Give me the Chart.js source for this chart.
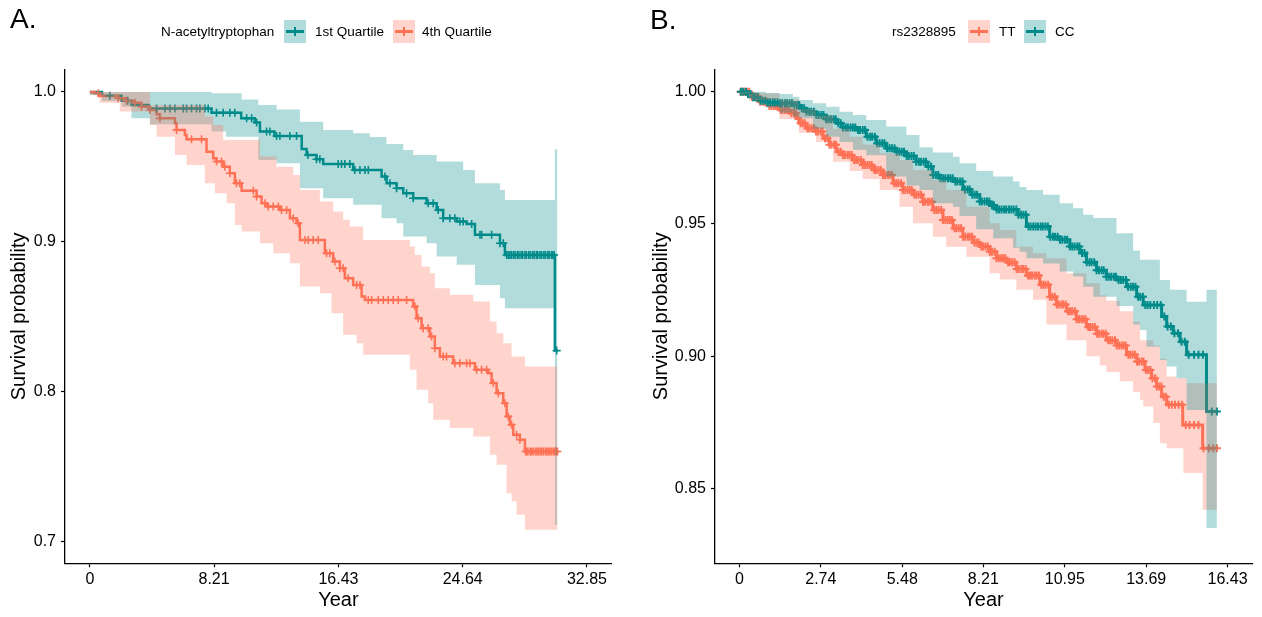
<!DOCTYPE html>
<html>
<head>
<meta charset="utf-8">
<script src="https://cdn.jsdelivr.net/npm/chart.js@4.4.0/dist/chart.umd.js"></script>
<style>
  body { margin: 0; background: #fff; font-family: 'Liberation Sans', Arial, sans-serif; }
  #wrap { position: relative; width: 1262px; height: 617px; overflow: hidden; background: #fff; }
  canvas { position: absolute; top: 0; }
  .tag { position: absolute; font-size: 28px; line-height: 28px; color: #000; }
  .leg { position: absolute; top: 25px; font-size: 13.5px; line-height: 13.5px; color: #000; white-space: nowrap; }
  .key { position: absolute; top: 20px; width: 22px; height: 23px; }
  .key .h { position: absolute; left: 2px; right: 2px; top: 10.3px; height: 2.4px; }
  .key .v { position: absolute; left: 10.2px; width: 1.6px; top: 7px; height: 9px; }
</style>
</head>
<body>
<div id="wrap">
  <canvas id="chartA" width="631" height="617" style="left:0"></canvas>
  <canvas id="chartB" width="631" height="617" style="left:631px"></canvas>

  <div class="tag" style="left:10px;top:4.6px">A.</div>
  <div class="leg" style="left:161px">N-acetyltryptophan</div>
  <div class="key" style="left:284px;background:rgba(0,139,139,0.3)"><div class="h" style="background:#008B8B"></div><div class="v" style="background:#008B8B"></div></div>
  <div class="leg" style="left:315px">1st Quartile</div>
  <div class="key" style="left:393px;background:rgba(255,114,86,0.3)"><div class="h" style="background:#FF7256"></div><div class="v" style="background:#FF7256"></div></div>
  <div class="leg" style="left:422px">4th Quartile</div>

  <div class="tag" style="left:650px;top:5.6px">B.</div>
  <div class="leg" style="left:892px">rs2328895</div>
  <div class="key" style="left:968px;background:rgba(255,114,86,0.3)"><div class="h" style="background:#FF7256"></div><div class="v" style="background:#FF7256"></div></div>
  <div class="leg" style="left:999px">TT</div>
  <div class="key" style="left:1024px;background:rgba(0,139,139,0.3)"><div class="h" style="background:#008B8B"></div><div class="v" style="background:#008B8B"></div></div>
  <div class="leg" style="left:1055px">CC</div>
</div>

<script>
// ---- Panel A: N-acetyltryptophan, 1st vs 4th quartile ----
const aXTicks = [0, 8.21, 16.43, 24.64, 32.85];
const aXLabels = ['0', '8.21', '16.43', '24.64', '32.85'];
const aYTicks = [0.7, 0.8, 0.9, 1.0];
const aYLabels = ['0.7', '0.8', '0.9', '1.0'];

// 1st quartile KM steps
const aQ1Time = [0, 0.8, 2.1, 2.75, 3.9, 8.04, 10.0, 10.9, 11.24, 12.2, 14.0, 14.32, 14.98, 15.42, 17.4, 19.28, 19.61, 20.27, 20.71, 21.37, 22.25, 22.92, 23.35, 24.24, 24.9, 25.45, 27.1, 27.43, 30.73, 30.9];
const aQ1Surv = [1.0, 0.9975, 0.9942, 0.9913, 0.989, 0.9862, 0.9824, 0.9796, 0.9736, 0.9707, 0.962, 0.958, 0.9551, 0.952, 0.948, 0.9436, 0.9391, 0.9358, 0.9324, 0.9291, 0.9257, 0.9213, 0.9158, 0.9136, 0.912, 0.9047, 0.8991, 0.8913, 0.8275, 0.8275];
const aQ1BandTime = [0, 0.8, 2.1, 2.75, 3.97, 8.04, 9.0, 10.03, 11.13, 12.34, 13.88, 15.42, 17.4, 18.5, 19.28, 19.6, 20.27, 20.71, 21.37, 22.25, 22.92, 24.24, 24.67, 25.45, 27.1, 27.43, 30.73, 30.9];
const aQ1Upper = [1.0, 1.0, 1.0, 1.0, 1.0, 0.9991, 0.9991, 0.995, 0.9913, 0.9884, 0.9802, 0.9747, 0.9724, 0.970, 0.970, 0.9653, 0.9653, 0.9613, 0.958, 0.958, 0.9536, 0.9536, 0.948, 0.9391, 0.9347, 0.928, 0.9618, 0.9618];
const aQ1Lower = [0.998, 0.994, 0.9902, 0.9824, 0.9784, 0.9736, 0.9702, 0.9702, 0.9547, 0.9524, 0.9358, 0.9291, 0.9247, 0.9247, 0.9158, 0.9158, 0.9124, 0.9036, 0.9036, 0.8991, 0.8902, 0.8847, 0.8847, 0.8713, 0.8624, 0.8558, 0.7113, 0.7113];
const aQ1Censor = [1.32, 2.51, 4.41, 4.96, 5.29, 5.62, 6.17, 6.39, 6.72, 7.05, 7.27, 7.6, 7.82, 8.37, 8.81, 9.25, 9.58, 10.36, 10.69, 11.02, 11.68, 11.9, 12.34, 12.56, 13.22, 13.66, 14.41, 14.98, 15.2, 16.41, 16.63, 16.85, 17.18, 17.51, 17.85, 18.18, 18.4, 19.5, 19.83, 20.27, 20.93, 21.37, 22.36, 22.69, 23.02, 23.35, 23.79, 24.12, 24.45, 24.67, 25.23, 25.78, 25.89, 26.55, 27.1, 27.32, 27.54, 27.65, 27.76, 27.87, 28.0, 28.1, 28.25, 28.35, 28.5, 28.6, 28.75, 28.85, 29.0, 29.1, 29.25, 29.35, 29.5, 29.6, 29.75, 29.85, 30.0, 30.1, 30.25, 30.35, 30.5, 30.6, 30.68, 30.85];

// 4th quartile KM steps
const aQ4Time = [0, 0.33, 0.66, 1.87, 2.42, 2.97, 3.41, 3.97, 4.41, 4.63, 5.62, 5.73, 6.28, 6.39, 7.71, 8.15, 8.37, 8.81, 9.25, 9.58, 10.03, 11.02, 11.35, 11.68, 12.56, 13.22, 13.66, 13.88, 15.53, 16.08, 16.52, 16.85, 17.4, 17.96, 18.18, 21.37, 21.59, 21.92, 22.47, 22.8, 23.13, 24.01, 25.45, 26.33, 26.55, 26.88, 27.32, 27.54, 27.76, 27.98, 28.42, 28.75, 30.9];
const aQ4Surv = [1.0, 0.9991, 0.9973, 0.9958, 0.9942, 0.9929, 0.9902, 0.988, 0.9851, 0.9824, 0.9791, 0.9747, 0.9713, 0.9684, 0.9602, 0.9558, 0.9536, 0.9502, 0.9458, 0.9391, 0.9342, 0.9302, 0.9258, 0.9236, 0.9213, 0.9158, 0.9124, 0.9013, 0.8924, 0.8869, 0.8824, 0.8758, 0.8713, 0.8636, 0.8613, 0.8569, 0.8491, 0.8424, 0.8369, 0.8291, 0.8236, 0.8191, 0.8147, 0.8124, 0.8058, 0.7991, 0.7924, 0.7836, 0.778, 0.7713, 0.768, 0.7602, 0.7602];
const aQ4BandTime = [0, 0.66, 1.98, 3.97, 4.41, 5.62, 6.39, 7.6, 8.15, 8.26, 8.81, 9.03, 9.58, 10.03, 11.24, 12.12, 12.34, 13.22, 13.44, 13.88, 15.2, 15.97, 16.08, 16.74, 17.18, 17.63, 18.06, 21.15, 21.48, 21.59, 21.92, 22.36, 22.47, 22.69, 22.8, 23.79, 25.34, 26.44, 26.88, 27.32, 27.54, 27.87, 28.2, 28.75, 30.9];
const aQ4Upper = [1.0, 1.0, 1.0, 0.9913, 0.9913, 0.9913, 0.9913, 0.9836, 0.978, 0.978, 0.968, 0.968, 0.968, 0.968, 0.9569, 0.9569, 0.9502, 0.9502, 0.9447, 0.9347, 0.9269, 0.9269, 0.9202, 0.9147, 0.9102, 0.9102, 0.9013, 0.8969, 0.8913, 0.8913, 0.8836, 0.8836, 0.8791, 0.8791, 0.8691, 0.8647, 0.8602, 0.8469, 0.8391, 0.8324, 0.8324, 0.8236, 0.8236, 0.8169, 0.8169];
const aQ4Lower = [0.998, 0.9929, 0.9869, 0.978, 0.9702, 0.958, 0.9513, 0.9391, 0.9391, 0.9324, 0.9324, 0.9258, 0.9113, 0.9069, 0.8991, 0.8924, 0.8924, 0.8858, 0.8858, 0.8702, 0.8658, 0.8524, 0.8524, 0.838, 0.838, 0.8324, 0.8247, 0.8147, 0.8147, 0.8013, 0.8013, 0.7924, 0.7924, 0.7813, 0.7813, 0.7758, 0.7702, 0.758, 0.7513, 0.7513, 0.7324, 0.7269, 0.718, 0.708, 0.708];
const aQ4Censor = [0.55, 1.87, 2.42, 2.97, 3.41, 3.97, 4.63, 5.73, 6.72, 7.38, 8.37, 8.7, 8.92, 9.25, 9.69, 9.91, 10.8, 11.02, 11.57, 11.79, 12.12, 12.45, 12.67, 13.0, 13.44, 13.77, 14.21, 14.43, 14.76, 15.09, 15.64, 15.86, 16.19, 16.52, 16.74, 17.07, 17.63, 17.85, 18.4, 18.62, 19.06, 19.39, 19.72, 20.05, 20.38, 20.93, 21.48, 21.7, 22.03, 22.36, 22.58, 22.8, 23.35, 23.57, 24.12, 24.45, 24.9, 25.12, 25.56, 25.89, 26.22, 26.66, 26.99, 27.43, 27.65, 27.87, 28.2, 28.42, 28.8, 28.86, 28.95, 29.1, 29.2, 29.3, 29.45, 29.55, 29.63, 29.75, 29.85, 29.96, 30.1, 30.2, 30.29, 30.4, 30.5, 30.62, 30.72, 30.82, 30.9];

// ---- Panel B: rs2328895, TT vs CC ----
const bXTicks = [0, 2.74, 5.48, 8.21, 10.95, 13.69, 16.43];
const bXLabels = ['0', '2.74', '5.48', '8.21', '10.95', '13.69', '16.43'];
const bYTicks = [0.85, 0.90, 0.95, 1.00];
const bYLabels = ['0.85', '0.90', '0.95', '1.00'];

// TT
const bTTTime = [0, 0.337, 0.674, 1.01, 1.348, 1.685, 1.91, 2.02, 2.25, 2.58, 2.81, 3.03, 3.26, 3.48, 3.82, 4.15, 4.49, 4.83, 5.17, 5.5, 5.84, 6.17, 6.51, 6.85, 7.19, 7.52, 7.86, 8.09, 8.42, 8.65, 8.99, 9.32, 9.66, 10.11, 10.44, 10.67, 11.01, 11.34, 11.68, 12.02, 12.35, 12.69, 13.03, 13.37, 13.65, 13.87, 14.04, 14.21, 14.38, 14.92, 15.59, 16.07];
const bTTSurv = [1.0, 0.9981, 0.9962, 0.9946, 0.9931, 0.9918, 0.9899, 0.9881, 0.9862, 0.9849, 0.9824, 0.9799, 0.9773, 0.9761, 0.9742, 0.9723, 0.9704, 0.9685, 0.9654, 0.9628, 0.961, 0.9584, 0.9553, 0.9515, 0.9484, 0.9452, 0.943, 0.9415, 0.9395, 0.937, 0.9355, 0.933, 0.9305, 0.927, 0.9225, 0.9195, 0.917, 0.914, 0.911, 0.9085, 0.906, 0.904, 0.9005, 0.898, 0.8948, 0.8917, 0.8885, 0.8847, 0.8816, 0.874, 0.8652, 0.8652];
const bTTBandTime = [0, 0.34, 1.35, 2.0, 2.58, 3.15, 3.71, 4.15, 4.72, 5.39, 5.84, 6.51, 6.96, 7.64, 8.42, 8.76, 9.32, 9.88, 10.33, 11.01, 11.68, 12.13, 12.35, 12.8, 13.25, 13.48, 13.59, 13.93, 14.15, 14.38, 14.71, 14.94, 15.05, 15.59, 16.07];
const bTTUpper = [1.0, 0.9994, 0.997, 0.9935, 0.991, 0.986, 0.983, 0.980, 0.9767, 0.9742, 0.9704, 0.9666, 0.9628, 0.9565, 0.9503, 0.9477, 0.9414, 0.9389, 0.937, 0.9314, 0.9276, 0.923, 0.921, 0.917, 0.913, 0.906, 0.906, 0.904, 0.899, 0.8923, 0.8917, 0.8917, 0.8898, 0.8898, 0.8898];
const bTTLower = [0.999, 0.9968, 0.9897, 0.9845, 0.981, 0.9735, 0.970, 0.967, 0.9628, 0.9565, 0.9503, 0.9452, 0.9414, 0.9376, 0.9314, 0.929, 0.9251, 0.9213, 0.912, 0.906, 0.900, 0.8965, 0.894, 0.8905, 0.8865, 0.8835, 0.881, 0.8747, 0.8671, 0.8652, 0.8652, 0.8558, 0.8558, 0.8419, 0.8419];
const bTTCensor = [0.04, 0.11, 0.19, 0.26, 0.33, 0.42, 0.48, 0.56, 0.64, 0.7, 0.79, 0.85, 0.93, 1.01, 1.08, 1.16, 1.23, 1.3, 1.39, 1.45, 1.53, 1.61, 1.68, 1.75, 1.84, 1.9, 1.98, 2.06, 2.13, 2.2, 2.29, 2.35, 2.43, 2.51, 2.58, 2.65, 2.74, 2.8, 2.88, 2.96, 3.03, 3.1, 3.19, 3.25, 3.33, 3.41, 3.48, 3.55, 3.64, 3.7, 3.78, 3.86, 3.93, 4.0, 4.09, 4.15, 4.23, 4.31, 4.38, 4.45, 4.54, 4.6, 4.68, 4.76, 4.83, 4.9, 4.99, 5.05, 5.13, 5.21, 5.28, 5.35, 5.44, 5.5, 5.58, 5.66, 5.73, 5.8, 5.89, 5.95, 6.03, 6.11, 6.18, 6.25, 6.34, 6.4, 6.48, 6.56, 6.63, 6.7, 6.79, 6.85, 6.93, 7.01, 7.08, 7.15, 7.24, 7.3, 7.38, 7.46, 7.53, 7.6, 7.69, 7.75, 7.83, 7.91, 7.98, 8.05, 8.14, 8.2, 8.28, 8.36, 8.43, 8.5, 8.59, 8.65, 8.73, 8.81, 8.88, 8.95, 9.04, 9.1, 9.18, 9.26, 9.33, 9.4, 9.49, 9.55, 9.63, 9.71, 9.78, 9.85, 9.94, 10.0, 10.08, 10.16, 10.23, 10.3, 10.39, 10.45, 10.53, 10.61, 10.68, 10.75, 10.84, 10.9, 10.98, 11.06, 11.13, 11.2, 11.29, 11.35, 11.43, 11.51, 11.58, 11.65, 11.74, 11.8, 11.88, 11.96, 12.03, 12.1, 12.19, 12.25, 12.33, 12.41, 12.48, 12.55, 12.64, 12.7, 12.78, 12.86, 12.93, 13.0, 13.09, 13.15, 13.23, 13.31, 13.38, 13.45, 13.54, 13.6, 13.68, 13.76, 13.83, 13.9, 13.99, 14.05, 14.13, 14.2, 14.28, 14.36, 14.45, 14.55, 14.66, 14.78, 14.9, 15.02, 15.15, 15.3, 15.45, 15.62, 15.8, 15.95, 16.07];

// CC
const bCCTime = [0, 0.225, 0.45, 0.674, 0.899, 1.348, 1.797, 2.02, 2.25, 2.58, 2.92, 3.26, 3.48, 3.93, 4.27, 4.6, 4.94, 5.28, 5.62, 5.95, 6.29, 6.51, 6.74, 7.19, 7.52, 7.8, 8.09, 8.42, 8.65, 9.38, 9.66, 10.44, 10.78, 11.12, 11.46, 11.68, 12.02, 12.35, 12.69, 13.03, 13.37, 13.59, 14.21, 14.38, 14.6, 14.83, 15.05, 15.72, 16.07];
const bCCSurv = [1.0, 0.9991, 0.9979, 0.9966, 0.996, 0.9956, 0.995, 0.9937, 0.9924, 0.9912, 0.9896, 0.9881, 0.9865, 0.9855, 0.983, 0.9805, 0.9786, 0.9773, 0.9757, 0.9735, 0.9717, 0.9685, 0.9673, 0.966, 0.963, 0.961, 0.9585, 0.957, 0.9555, 0.9535, 0.949, 0.9452, 0.944, 0.9415, 0.939, 0.9355, 0.9325, 0.930, 0.9288, 0.9263, 0.9225, 0.9194, 0.915, 0.9112, 0.9087, 0.9055, 0.9005, 0.8791, 0.8791];
const bCCBandTime = [0, 0.45, 0.9, 1.35, 1.8, 2.02, 2.47, 2.92, 3.37, 3.82, 4.27, 4.94, 5.62, 6.06, 6.51, 7.19, 7.41, 7.97, 8.54, 9.21, 9.43, 9.66, 10.22, 10.78, 11.23, 11.57, 11.91, 12.69, 13.25, 13.48, 13.7, 14.15, 14.38, 14.49, 14.71, 15.05, 15.72, 16.07];
const bCCUpper = [1.0, 1.0, 0.9995, 0.9991, 0.9981, 0.9969, 0.9956, 0.9943, 0.9924, 0.9912, 0.9893, 0.9868, 0.9836, 0.979, 0.977, 0.9754, 0.9729, 0.970, 0.9679, 0.966, 0.964, 0.9628, 0.961, 0.9578, 0.9559, 0.9535, 0.9522, 0.9465, 0.940, 0.9365, 0.9365, 0.9288, 0.9288, 0.9251, 0.9251, 0.9206, 0.9251, 0.9251];
const bCCLower = [0.999, 0.9965, 0.994, 0.992, 0.9905, 0.99, 0.986, 0.983, 0.981, 0.978, 0.976, 0.9679, 0.9645, 0.9628, 0.9578, 0.9565, 0.953, 0.948, 0.9446, 0.941, 0.9395, 0.937, 0.935, 0.932, 0.9301, 0.9263, 0.9225, 0.919, 0.912, 0.9099, 0.9036, 0.8986, 0.8961, 0.8961, 0.8917, 0.8797, 0.835, 0.835];
const bCCCensor = [0.05, 0.13, 0.22, 0.29, 0.38, 0.46, 0.53, 0.62, 0.71, 0.78, 0.87, 0.95, 1.03, 1.12, 1.19, 1.28, 1.36, 1.44, 1.53, 1.6, 1.69, 1.77, 1.85, 1.94, 2.01, 2.1, 2.18, 2.26, 2.35, 2.42, 2.51, 2.59, 2.67, 2.76, 2.83, 2.92, 3.0, 3.08, 3.17, 3.24, 3.33, 3.41, 3.49, 3.58, 3.65, 3.74, 3.82, 3.9, 3.99, 4.06, 4.15, 4.23, 4.31, 4.4, 4.47, 4.56, 4.64, 4.72, 4.81, 4.88, 4.97, 5.05, 5.13, 5.22, 5.29, 5.38, 5.46, 5.54, 5.63, 5.7, 5.79, 5.87, 5.95, 6.04, 6.11, 6.2, 6.28, 6.36, 6.45, 6.52, 6.61, 6.69, 6.77, 6.86, 6.93, 7.02, 7.1, 7.18, 7.27, 7.34, 7.43, 7.51, 7.59, 7.68, 7.75, 7.84, 7.92, 8.0, 8.09, 8.16, 8.25, 8.33, 8.41, 8.5, 8.57, 8.66, 8.74, 8.82, 8.91, 8.98, 9.07, 9.15, 9.23, 9.32, 9.39, 9.48, 9.56, 9.64, 9.73, 9.8, 9.89, 9.97, 10.05, 10.14, 10.21, 10.3, 10.38, 10.46, 10.55, 10.62, 10.71, 10.79, 10.87, 10.96, 11.03, 11.12, 11.2, 11.28, 11.37, 11.44, 11.53, 11.61, 11.69, 11.78, 11.85, 11.94, 12.02, 12.1, 12.19, 12.26, 12.35, 12.43, 12.51, 12.6, 12.67, 12.76, 12.84, 12.92, 13.01, 13.08, 13.17, 13.25, 13.33, 13.42, 13.49, 13.58, 13.66, 13.74, 13.83, 13.95, 14.06, 14.18, 14.3, 14.41, 14.52, 14.64, 14.76, 14.88, 14.99, 15.12, 15.3, 15.45, 15.6, 15.9, 16.07];

const TEAL = '#008B8B';
const TEAL_FILL = 'rgba(0,139,139,0.3)';
const CORAL = '#FF7256';
const CORAL_FILL = 'rgba(255,114,86,0.3)';
const FONT = "'Liberation Sans', Arial, sans-serif";

const toXY = (xs, ys) => xs.map((x, i) => ({x: x, y: ys[i]}));

// value of the step curve at time t (censor marks sit on the curve)
function survAt(xs, ys, t) {
  let v = ys[0];
  for (let i = 0; i < xs.length; i++) {
    if (xs[i] <= t) v = ys[i];
  }
  return v;
}

// line + censor marks for one group
function lineSets(time, surv, censor, color, order, lw, mw) {
  return [
    {data: toXY(time, surv), stepped: true, borderColor: color, borderWidth: lw,
     pointRadius: 0, fill: false, order: order},
    {data: censor.map(t => ({x: t, y: survAt(time, surv, t)})), showLine: false,
     pointStyle: 'cross', pointRadius: 4, pointBorderWidth: mw,
     pointBorderColor: color, borderColor: color, backgroundColor: color, order: order - 2},
  ];
}
// CI ribbon, drawn over the lines like ggsurvplot does
function bandSets(time, upper, lower, fillColor, order) {
  return [
    {data: toXY(time, upper), stepped: true, borderColor: 'transparent', borderWidth: 0,
     pointRadius: 0, fill: '+1', backgroundColor: fillColor, order: order},
    {data: toXY(time, lower), stepped: true, borderColor: 'transparent', borderWidth: 0,
     pointRadius: 0, fill: false, order: order},
  ];
}

function makeChart(id, c) {
  const tickFont = {family: FONT, size: 16};
  const titleFont = {family: FONT, size: 20};
  return new Chart(document.getElementById(id), {
    type: 'line',
    data: {datasets: c.datasets},
    options: {
      responsive: false,
      animation: false,
      devicePixelRatio: 1,
      layout: {padding: c.padding},
      plugins: {legend: {display: false}, tooltip: {enabled: false}},
      scales: {
        x: {
          type: 'linear', min: c.xMin, max: c.xMax,
          afterBuildTicks: s => { s.ticks = c.xTicks.map(v => ({value: v})); },
          afterFit: s => { s.height = c.xHeight; },
          ticks: {callback: (v, i) => c.xLabels[i], font: tickFont, color: '#000',
                  padding: 3, autoSkip: false, maxRotation: 0},
          grid: {drawOnChartArea: false, drawTicks: true, tickLength: 4, tickColor: '#000', tickWidth: 1.2},
          border: {display: true, color: '#000', width: 1.3},
          title: {display: true, text: 'Year', font: titleFont, color: '#000', padding: {top: 0, bottom: 5}},
        },
        y: {
          type: 'linear', min: c.yMin, max: c.yMax,
          afterBuildTicks: s => { s.ticks = c.yTicks.map(v => ({value: v})); },
          afterFit: s => { s.width = c.yWidth; },
          ticks: {callback: (v, i) => c.yLabels[i], font: tickFont, color: '#000', padding: 5},
          grid: {drawOnChartArea: false, drawTicks: true, tickLength: 4, tickColor: '#000', tickWidth: 1.2},
          border: {display: true, color: '#000', width: 1.3},
          title: {display: true, text: 'Survival probability', font: titleFont, color: '#000',
                  padding: {top: c.yTitlePad, bottom: 0}},
        },
      },
    },
  });
}

makeChart('chartA', {
  datasets: [
    ...lineSets(aQ1Time, aQ1Surv, aQ1Censor, TEAL, 8, 2.5, 1.6),
    ...lineSets(aQ4Time, aQ4Surv, aQ4Censor, CORAL, 7, 2.5, 1.6),
    ...bandSets(aQ1BandTime, aQ1Upper, aQ1Lower, TEAL_FILL, 2),
    ...bandSets(aQ4BandTime, aQ4Upper, aQ4Lower, CORAL_FILL, 1),
  ],
  padding: {left: 0, top: 69.5, right: 19.2, bottom: 0},
  xMin: -1.6425, xMax: 34.4925, yMin: 0.6856, yMax: 1.015,
  xTicks: aXTicks, xLabels: aXLabels, yTicks: aYTicks, yLabels: aYLabels,
  xHeight: 53.7, yWidth: 65, yTitlePad: 7,
});

makeChart('chartB', {
  datasets: [
    ...lineSets(bTTTime, bTTSurv, bTTCensor, CORAL, 8, 3, 2),
    ...lineSets(bCCTime, bCCSurv, bCCCensor, TEAL, 7, 3, 2),
    ...bandSets(bTTBandTime, bTTUpper, bTTLower, CORAL_FILL, 2),
    ...bandSets(bCCBandTime, bCCUpper, bCCLower, TEAL_FILL, 1),
  ],
  padding: {left: 0, top: 69.2, right: 10, bottom: 0},
  xMin: -0.8215, xMax: 17.2515, yMin: 0.8217, yMax: 1.0085,
  xTicks: bXTicks, xLabels: bXLabels, yTicks: bYTicks, yLabels: bYLabels,
  xHeight: 53.7, yWidth: 84, yTitlePad: 18,
});
</script>
</body>
</html>
